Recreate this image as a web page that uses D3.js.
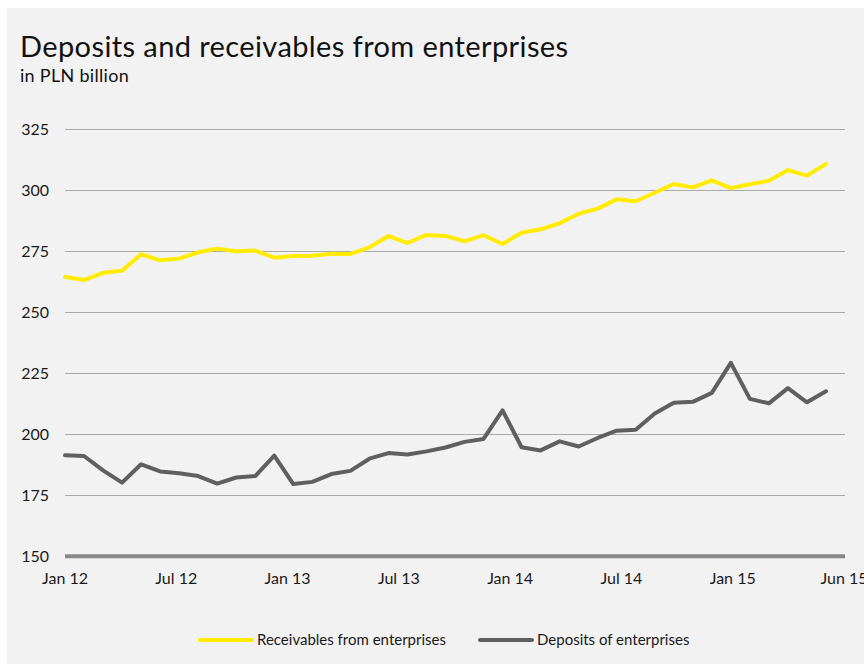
<!DOCTYPE html>
<html>
<head>
<meta charset="utf-8">
<script src="https://cdn.jsdelivr.net/npm/d3@7"></script>
<style>
  html, body { margin: 0; padding: 0; background: #ffffff; }
  svg { display: block; }
  text { font-family: Lato, "Noto Sans", sans-serif; fill: #1a1a1a; }
</style>
</head>
<body>
<svg id="chart" width="864" height="664"></svg>
<script>
// Monthly series, Jan 2012 onwards (PLN billion)
const months = [
  "Jan 12","Feb 12","Mar 12","Apr 12","May 12","Jun 12","Jul 12","Aug 12","Sep 12","Oct 12","Nov 12","Dec 12",
  "Jan 13","Feb 13","Mar 13","Apr 13","May 13","Jun 13","Jul 13","Aug 13","Sep 13","Oct 13","Nov 13","Dec 13",
  "Jan 14","Feb 14","Mar 14","Apr 14","May 14","Jun 14","Jul 14","Aug 14","Sep 14","Oct 14","Nov 14","Dec 14",
  "Jan 15","Feb 15","Mar 15","Apr 15","May 15"
];
const receivables = [
  264.6, 263.2, 266.2, 267.0, 273.8, 271.3, 272.0, 274.6, 276.1, 275.0, 275.3, 272.4,
  273.1, 273.2, 274.0, 273.9, 276.6, 281.3, 278.4, 281.7, 281.3, 279.1, 281.6, 278.0,
  282.6, 284.0, 286.5, 290.4, 292.5, 296.3, 295.5, 299.0, 302.6, 301.2, 304.1, 300.9,
  302.5, 303.9, 308.3, 306.0, 310.8
];
const deposits = [
  191.4, 191.1, 185.2, 180.2, 187.7, 184.8, 184.0, 182.9, 179.8, 182.3, 182.9, 191.3,
  179.6, 180.5, 183.7, 185.0, 190.0, 192.3, 191.7, 193.0, 194.6, 196.9, 198.1, 209.8,
  194.7, 193.4, 197.1, 195.0, 198.5, 201.5, 201.9, 208.5, 212.9, 213.3, 217.0, 229.3,
  214.5, 212.7, 218.9, 213.1, 217.6
];
const xTickLabels = ["Jan 12","Jul 12","Jan 13","Jul 13","Jan 14","Jul 14","Jan 15","Jun 15"];
const yTicks = [150, 175, 200, 225, 250, 275, 300, 325];
const seriesNames = ["Receivables from enterprises", "Deposits of enterprises"];
const seriesColors = ["#ffec00", "#5f5f5f"];

const svg = d3.select("#chart");
const W = 864, H = 664;

// panel background
svg.append("rect")
  .attr("x", 7).attr("y", 8).attr("width", W - 7).attr("height", H - 8)
  .attr("fill", "#f2f2f2");

// titles
svg.append("text")
  .attr("x", 20).attr("y", 57)
  .style("font-size", "29px")
  .style("letter-spacing", "0.4px")
  .style("fill", "#111")
  .text("Deposits and receivables from enterprises");
svg.append("text")
  .attr("x", 20).attr("y", 82)
  .style("font-size", "18px")
  .style("letter-spacing", "0.3px")
  .style("fill", "#111")
  .text("in PLN billion");

const plotLeft = 65, plotRight = 845;

// x: month index, axis spans 41 month slots
const x = d3.scaleLinear().domain([0, 41]).range([plotLeft, plotRight]);
const y = d3.scaleLinear().domain([150, 325]).range([556.3, 129.3]);
// evenly spaced axis labels along the same span
const xLab = d3.scalePoint().domain(xTickLabels).range([plotLeft, plotRight - 1]);

// gridlines
svg.append("g")
  .selectAll("line")
  .data(yTicks.filter(v => v > 150))
  .join("line")
  .attr("x1", plotLeft).attr("x2", plotRight)
  .attr("y1", d => Math.round(y(d)) + 0.5).attr("y2", d => Math.round(y(d)) + 0.5)
  .attr("stroke", "#a9a9a9").attr("stroke-width", 1);

// y tick labels
svg.append("g")
  .selectAll("text")
  .data(yTicks)
  .join("text")
  .attr("x", 49).attr("y", d => y(d))
  .attr("dy", "0.35em")
  .attr("text-anchor", "end")
  .style("font-size", "16px")
  .text(d => d);

// baseline axis
svg.append("line")
  .attr("x1", plotLeft).attr("x2", plotRight)
  .attr("y1", y(150)).attr("y2", y(150))
  .attr("stroke", "#878787").attr("stroke-width", 4);

// x tick labels
svg.append("g")
  .selectAll("text")
  .data(xTickLabels)
  .join("text")
  .attr("x", d => xLab(d)).attr("y", 584)
  .attr("text-anchor", "middle")
  .style("font-size", "16px")
  .text(d => d);

// series lines
const line = d3.line().x((d, i) => x(i)).y(d => y(d));
[receivables, deposits].forEach((vals, k) => {
  svg.append("path")
    .datum(vals)
    .attr("d", line)
    .attr("fill", "none")
    .attr("stroke", seriesColors[k])
    .attr("stroke-width", 4)
    .attr("stroke-linejoin", "round")
    .attr("stroke-linecap", "round");
});

// legend
const legendX = [200, 480];
const legend = svg.append("g");
seriesNames.forEach((name, k) => {
  legend.append("line")
    .attr("x1", legendX[k]).attr("x2", legendX[k] + 52)
    .attr("y1", 640).attr("y2", 640)
    .attr("stroke", seriesColors[k]).attr("stroke-width", 4)
    .attr("stroke-linecap", "round");
  legend.append("text")
    .attr("x", legendX[k] + 57).attr("y", 640)
    .attr("dy", "0.35em")
    .style("font-size", "15px")
    .text(name);
});
</script>
</body>
</html>
